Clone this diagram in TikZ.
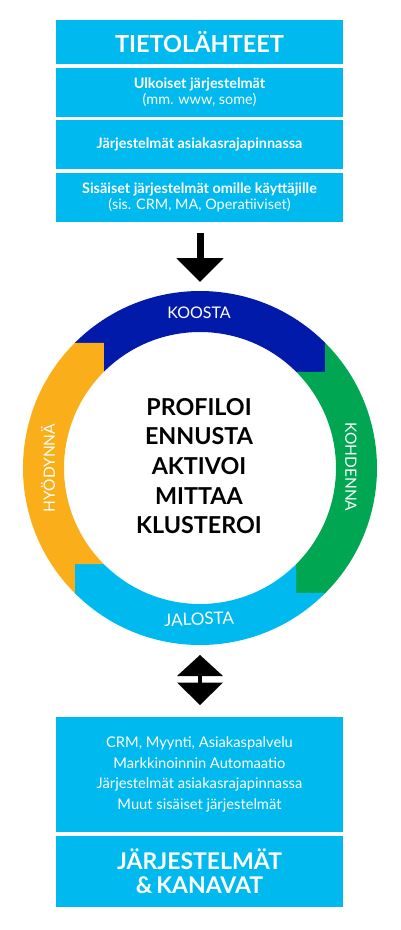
\documentclass[tikz,border=0pt]{standalone}
\usepackage{fontspec}
\setmainfont{Lato}
\usetikzlibrary{arrows.meta}
\definecolor{boxblue}{RGB}{0,185,238}
\definecolor{ringdark}{RGB}{2,26,170}
\definecolor{ringgreen}{RGB}{0,166,81}
\definecolor{ringorange}{RGB}{250,174,26}
\begin{document}
\begin{tikzpicture}[x=1pt,y=1pt,
  box/.style={fill=boxblue, minimum width=287pt, inner sep=0pt, text=white, align=center},
  srcfont/.style={font=\fontsize{14.4}{16}\selectfont},
  ringlabel/.style={text=white, inner sep=0pt, font=\fontsize{16}{18}\selectfont},
  bigarrow/.style={line width=7pt, -{Triangle[width=46pt,length=24pt]}}
]
\useasboundingbox (0,0) rectangle (400,-930);
% top boxes
\node[box, minimum height=44pt, font=\fontsize{23.5}{26}\selectfont\bfseries] (title) at (199.5,-42) {TIETOLÄHTEET};
\node[box, minimum height=49pt, srcfont] (src1) at (199.5,-92.5) {\textbf{Ulkoiset järjestelmät}\\(mm. www, some)};
\node[box, minimum height=49pt, srcfont] (src2) at (199.5,-144.5) {\textbf{Järjestelmät asiakasrajapinnassa}};
\node[box, minimum height=49pt, srcfont] (src3) at (199.5,-197.5) {\textbf{Sisäiset järjestelmät omille käyttäjille}\\(sis. CRM, MA, Operatiiviset)};
% arrow down
\coordinate (a1) at (200,-233);
\coordinate (a2) at (200,-282);
\draw[bigarrow] (a1) -- (a2);
% ring
\begin{scope}[shift={(200,-468)}]
\fill[ringdark] (135:177) arc[start angle=135,end angle=45,radius=177] -- (125.16,96.17) -- (45:136) arc[start angle=45,end angle=135,radius=136] -- (-96.17,125.16) -- cycle;
\fill[ringgreen] (45:177) arc[start angle=45,end angle=-45,radius=177] -- (96.17,-125.16) -- (-45:136) arc[start angle=-45,end angle=45,radius=136] -- (125.16,96.17) -- cycle;
\fill[boxblue] (-45:177) arc[start angle=-45,end angle=-135,radius=177] -- (-125.16,-96.17) -- (-135:136) arc[start angle=-135,end angle=-45,radius=136] -- (96.17,-125.16) -- cycle;
\fill[ringorange] (-135:177) arc[start angle=-135,end angle=-225,radius=177] -- (-96.17,125.16) -- (135:136) arc[start angle=135,end angle=225,radius=136] -- (-125.16,-96.17) -- cycle;
\end{scope}
\node[ringlabel] (koosta) at (199,-313) {KOOSTA};
\node[ringlabel, rotate=-90, font=\fontsize{15.5}{18}\selectfont] (kohdenna) at (351,-467) {KOHDENNA};
\node[ringlabel, rotate=2, font=\fontsize{17}{18}\selectfont] (jalosta) at (199,-619) {JALOSTA};
\node[ringlabel, rotate=90, font=\fontsize{15.5}{18}\selectfont] (hyodynna) at (48,-468) {HYÖDYNNÄ};
\node[align=center, inner sep=0pt, font=\fontsize{23.3}{29.6}\selectfont\bfseries] (core) at (199,-466) {PROFILOI\\ENNUSTA\\AKTIVOI\\MITTAA\\KLUSTEROI};
% double arrow
\coordinate (d1) at (200,-655);
\coordinate (d2) at (200,-705);
\fill (d1) -- (223,-676) -- (177,-676) -- cycle;
\fill (177,-682.5) -- (223,-682.5) -- (d2) -- cycle;
\fill (198,-675) rectangle (202,-684);
% bottom boxes
\node[box, minimum height=115pt, font=\fontsize{14.7}{20.7}\selectfont] (sys) at (199.5,-774.5) {CRM, Myynti, Asiakaspalvelu\\Markkinoinnin Automaatio\\Järjestelmät asiakasrajapinnassa\\Muut sisäiset järjestelmät};
\node[box, minimum height=71pt, font=\fontsize{23}{24}\selectfont\bfseries] (channels) at (199.5,-871.5) {JÄRJESTELMÄT\\\&\,KANAVAT};
\end{tikzpicture}
\end{document}
